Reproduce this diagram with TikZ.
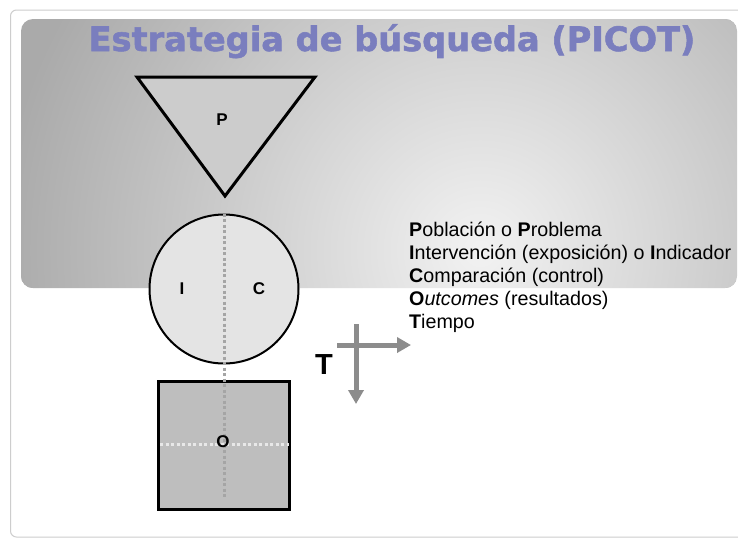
\documentclass[tikz,border=0pt]{standalone}
\usepackage{fontspec}
\setmainfont{Liberation Sans}
\newfontfamily\titlefont{DejaVu Sans Bold}[FakeBold=1.6]
\usetikzlibrary{arrows.meta}
\definecolor{titleblue}{RGB}{122,126,190}
\definecolor{trifill}{RGB}{204,204,204}
\definecolor{circfill}{RGB}{228,228,228}
\definecolor{sqfill}{RGB}{190,190,190}
\definecolor{dotgray}{RGB}{165,165,165}
\definecolor{dotlight}{RGB}{232,232,232}
\definecolor{arrgray}{RGB}{140,140,140}
\definecolor{bannerin}{RGB}{242,242,242}
\definecolor{bannerout}{RGB}{170,170,170}
\definecolor{framegray}{RGB}{205,205,205}
\begin{document}
\begin{tikzpicture}[x=1pt,y=-1pt,
  letter/.style={font=\fontsize{17}{20}\selectfont\bfseries, inner sep=0pt},
  item/.style={anchor=base west, inner sep=0pt, font=\fontsize{19.7}{23}\selectfont},
  dots/.style={line width=3pt, dash pattern=on 3pt off 2.5pt},
  timearrow/.style={draw=arrgray, line width=5pt, -{Triangle[length=14pt,width=15pt]}},
]
\useasboundingbox (0,0) rectangle (738,539);
\fill[white] (0,0) rectangle (738,539);
\draw[framegray, line width=1pt, rounded corners=6] (745,10) -- (10.5,10) -- (10.5,537) -- (745,537);
\begin{scope}
  \clip[rounded corners=12] (21,19) rectangle (737,288);
  \fill[bannerout] (21,19) rectangle (737,288);
  \shade[inner color=bannerin, outer color=bannerout] (480,250) circle (480);
\end{scope}
\node[anchor=base, inner sep=0pt, font=\titlefont\fontsize{33.6}{36}\selectfont, text=titleblue] (title) at (392,51) {Estrategia de búsqueda (PICOT)};

% triangle P
\coordinate (tl) at (137,77);
\coordinate (tr) at (315,77);
\coordinate (ap) at (225,196);
\draw[line width=3pt, fill=trifill, line join=miter] (tl) -- (tr) -- (ap) -- cycle;
\node[letter] (P) at (222,120) {P};

% circle I C
\node[circle, draw, line width=2pt, fill=circfill, minimum size=149pt, inner sep=0pt] (circ) at (224,289) {};

% square O
\node[draw, line width=3pt, fill=sqfill, minimum width=131pt, minimum height=128pt, inner sep=0pt] (sq) at (224,445.5) {};

% dotted guides
\coordinate (oend) at (224,497);
\coordinate (hl) at (160,444);
\coordinate (hr) at (289,444);
\draw[dots, dotgray] (circ.north) -- (oend);
\draw[dots, dotlight] (hl) -- (hr);

\node[letter] (I) at (182,289) {I};
\node[letter] (C) at (259,289) {C};
\node[letter] (O) at (223,442) {O};

% time arrows
\coordinate (th0) at (337,345);
\coordinate (th1) at (411,345);
\coordinate (tv0) at (356,324);
\coordinate (tv1) at (356,404);
\draw[timearrow] (th0) -- (th1);
\draw[timearrow] (tv0) -- (tv1);
\node[font=\fontsize{29}{32}\selectfont\bfseries, inner sep=0pt] (T) at (324,365) {T};

% list
\node[item] (l1) at (409,236) {\textbf{P}oblación o \textbf{P}roblema};
\node[item] (l2) at (409,259) {\textbf{I}ntervención (exposición) o \textbf{I}ndicador};
\node[item] (l3) at (409,282) {\textbf{C}omparación (control)};
\node[item] (l4) at (409,305) {\textbf{O}\textit{utcomes} (resultados)};
\node[item] (l5) at (409,328) {\textbf{T}iempo};
\end{tikzpicture}
\end{document}
